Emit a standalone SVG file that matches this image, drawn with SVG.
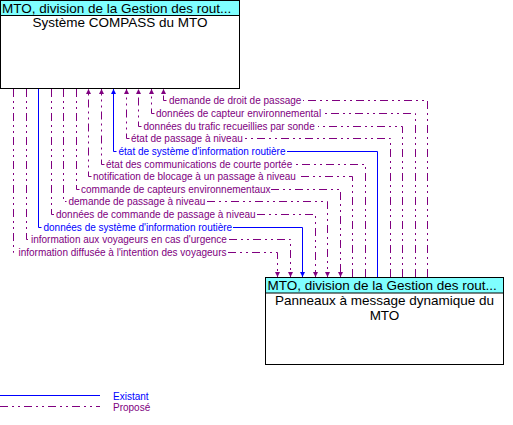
<svg xmlns="http://www.w3.org/2000/svg" width="513" height="425" viewBox="0 0 513 425">
<style>
.box{fill:#ffffff;stroke:#000000;stroke-width:1}
.hdr{fill:#7fffff;stroke:#000000;stroke-width:1}
.ht{font-family:"Liberation Sans",Arial,sans-serif;font-size:13.5px;fill:#000000}
.tt{font-family:"Liberation Sans",Arial,sans-serif;font-size:13.5px;fill:#000000;text-anchor:middle}
.p{fill:none;stroke:#800080;stroke-width:1;stroke-dasharray:8,4,2,4,2,4}
.e{fill:none;stroke:#0000ff;stroke-width:1}
.pa{marker-end:url(#ap)}
.ea{marker-end:url(#ae)}
.lp{font-family:"Liberation Sans",Arial,sans-serif;font-size:10px;fill:#800080}
.le{font-family:"Liberation Sans",Arial,sans-serif;font-size:10px;fill:#0000ff}
</style>
<defs>
<marker id="ap" viewBox="0 0 8 8" refX="8" refY="4" markerWidth="5" markerHeight="5" markerUnits="userSpaceOnUse" orient="auto"><path d="M0,0 L8,4 L0,8 z" fill="#800080"/></marker>
<marker id="ae" viewBox="0 0 8 8" refX="8" refY="4" markerWidth="5" markerHeight="5" markerUnits="userSpaceOnUse" orient="auto"><path d="M0,0 L8,4 L0,8 z" fill="#0000ff"/></marker>
</defs>
<rect width="513" height="425" fill="#ffffff"/>
<g id="node-compass">
<rect class="box" x="0.5" y="0.5" width="239" height="88"/>
<rect class="hdr" x="0.5" y="0.5" width="239" height="15"/>
<text class="ht" x="2" y="12.5">MTO, division de la Gestion des rout...</text>
<text class="tt" x="120" y="27">Système COMPASS du MTO</text>
</g>
<g id="node-pmv">
<rect class="box" x="265.5" y="277.5" width="238" height="87"/>
<rect class="hdr" x="265.5" y="277.5" width="238" height="15.5"/>
<text class="ht" x="267.5" y="289.5">MTO, division de la Gestion des rout...</text>
<text class="tt" x="384.5" y="305">Panneaux à message dynamique du</text>
<text class="tt" x="384.5" y="320">MTO</text>
</g>
<g id="connectors">
<g id="f1"><path class="p" d="M427.5,277 V100.5 H303"/><path class="p pa" d="M166.5,100.5 H163.5 V89"/><text class="lp" x="169" y="103.5">demande de droit de passage</text></g>
<g id="f2"><path class="p" d="M415.5,277 V113.5 H323"/><path class="p pa" d="M154.5,113.5 H151.5 V89"/><text class="lp" x="156" y="116.5">données de capteur environnemental</text></g>
<g id="f3"><path class="p" d="M402.5,277 V126.5 H318"/><path class="p pa" d="M141.5,126.5 H138.5 V89"/><text class="lp" x="143.5" y="129.5">données du trafic recueillies par sonde</text></g>
<g id="f4"><path class="p" d="M390.5,277 V138.5 H245"/><path class="p pa" d="M129.5,138.5 H126.5 V89"/><text class="lp" x="131" y="141.5">état de passage à niveau</text></g>
<g id="f5"><path class="e" d="M377.5,277 V151.5 H287"/><path class="e ea" d="M116.5,151.5 H113.5 V89"/><text class="le" x="118.5" y="154.5">état de système d'information routière</text></g>
<g id="f6"><path class="p" d="M365.5,277 V164.5 H293"/><path class="p pa" d="M104.5,164.5 H101.5 V89"/><text class="lp" x="106" y="167.5">état des communications de courte portée</text></g>
<g id="f7"><path class="p" d="M352.5,277 V176.5 H298"/><path class="p pa" d="M91.5,176.5 H88.5 V89"/><text class="lp" x="93" y="179.5">notification de blocage à un passage à niveau</text></g>
<g id="f8"><path class="p" d="M76.5,89 V189.5 H79.5"/><path class="p pa" d="M271,189.5 H340.5 V277"/><text class="lp" x="81" y="192.5">commande de capteurs environnementaux</text></g>
<g id="f9"><path class="p" d="M63.5,89 V201.5 H66.5"/><path class="p pa" d="M207,201.5 H327.5 V277"/><text class="lp" x="68.5" y="204.5">demande de passage à niveau</text></g>
<g id="f10"><path class="p" d="M51.5,89 V214.5 H54.5"/><path class="p pa" d="M257,214.5 H315.5 V277"/><text class="lp" x="56" y="217.5">données de commande de passage à niveau</text></g>
<g id="f11"><path class="e" d="M38.5,89 V227.5 H41.5"/><path class="e ea" d="M233,227.5 H302.5 V277"/><text class="le" x="43.5" y="230.5">données de système d'information routière</text></g>
<g id="f12"><path class="p" d="M26.5,89 V239.5 H29.5"/><path class="p pa" d="M229,239.5 H290.5 V277"/><text class="lp" x="31" y="242.5">information aux voyageurs en cas d'urgence</text></g>
<g id="f13"><path class="p" d="M13.5,89 V252.5 H16.5"/><path class="p pa" d="M228,252.5 H277.5 V277"/><text class="lp" x="18.5" y="255.5">information diffusée à l'intention des voyageurs</text></g>
</g>
<g id="legend">
<path class="e" d="M0,395.5 H100"/>
<text class="le" x="113" y="399.5">Existant</text>
<path class="p" d="M0,406.5 H100"/>
<text class="lp" x="113" y="410.5">Proposé</text>
</g>
</svg>
